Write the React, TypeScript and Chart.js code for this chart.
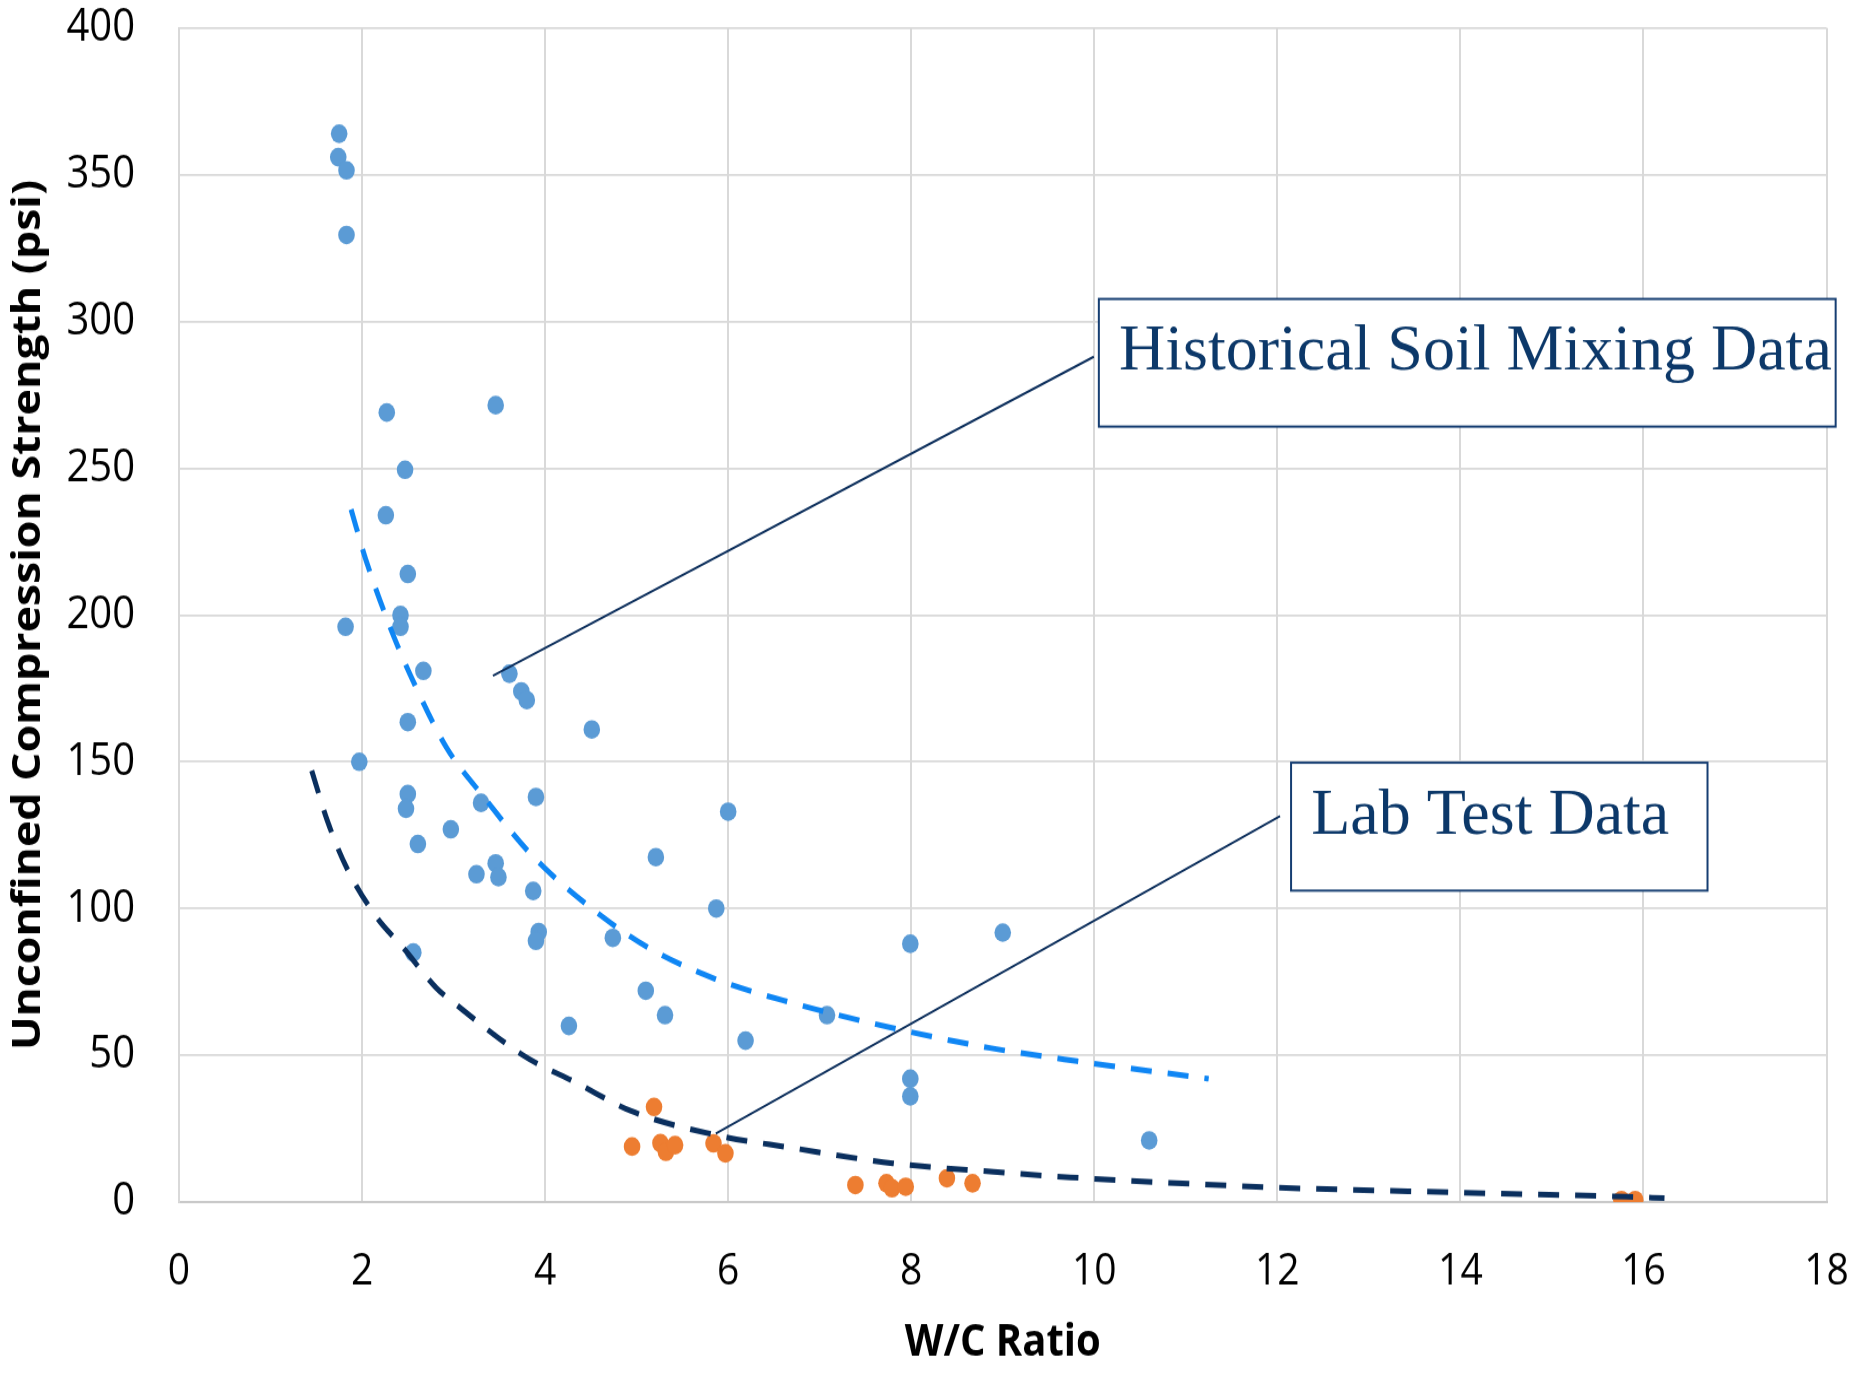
import React, { useEffect, useRef } from "react";
import { Chart, registerables } from "chart.js";

Chart.register(...registerables);

// ---- data ----
const historicalWC = [
  1.75, 1.74, 1.83, 1.83, 2.27, 3.46, 2.47, 2.26, 2.5, 2.42, 2.42, 1.82, 2.67, 3.61, 3.74, 3.8,
  2.5, 4.51, 1.97, 2.5, 3.9, 2.48, 3.3, 6.0, 2.97, 2.61, 5.21, 3.46, 3.25, 3.49, 3.87, 5.87,
  3.93, 3.9, 4.74, 7.99, 9.0, 2.56, 5.1, 5.31, 7.08, 4.26, 6.19, 7.99, 7.99, 10.6,
];
const historicalUCS = [
  364, 356, 351.5, 329.5, 269, 271.5, 249.5, 234, 214, 200, 196, 196, 181, 180, 174, 171,
  163.5, 161, 150, 139, 138, 134, 136, 133, 127, 122, 117.5, 115.4, 111.7, 110.7, 106, 100,
  92, 89, 90, 88, 91.8, 85, 72, 63.7, 63.7, 60, 55, 42, 36, 21,
];

const labWC = [5.19, 4.95, 5.26, 5.32, 5.42, 5.84, 5.97, 7.39, 7.73, 7.79, 7.94, 8.39, 8.67, 15.76, 15.91];
const labUCS = [32.4, 18.9, 20.1, 17.1, 19.4, 20, 16.6, 5.8, 6.4, 4.7, 5.2, 8.1, 6.4, 0.7, 0.7];

const historicalTrendWC = [1.88, 2.04, 2.33, 2.58, 2.92, 3.33, 3.86, 4.51, 5.11, 5.86, 6.68, 7.84, 8.86, 9.81, 11.25];
const historicalTrendUCS = [236, 219, 194, 176, 155, 138, 118, 100, 87, 76, 68, 59, 52.5, 48, 42];

const labTrendWC = [1.45, 1.62, 1.83, 2.16, 2.44, 2.81, 3.0, 3.76, 4.35, 4.94, 5.87, 6.69, 7.8, 8.9, 9.74, 11.95, 14.04, 15.82, 16.23];
const labTrendUCS = [147, 130, 114, 97, 87, 73, 68, 50, 40.5, 31, 22.8, 18.5, 13.2, 10.3, 8.4, 5.0, 3.2, 1.8, 1.3];

const xTicks = [0, 2, 4, 6, 8, 10, 12, 14, 16, 18];
const yTicks = [0, 50, 100, 150, 200, 250, 300, 350, 400];

const xTitle = "W/C Ratio";
const yTitle = "Unconfined Compression Strength (psi)";

const calloutTexts = ["Historical Soil Mixing Data", "Lab Test Data"];
// callout geometry in data units (box: x1,y1,x2,y2; text anchor; leader from -> to)
const calloutBoxes = [
  [10.05, 307.7, 18.1, 264.2],
  [12.15, 149.7, 16.7, 106.1],
];
const calloutTextAt = [
  [10.27, 283.5],
  [12.37, 125.3],
];
const calloutLeaders = [
  [3.43, 179.3, 9.995, 288],
  [5.865, 23.3, 12.03, 131.5],
];

// ---- layout / style ----
const W = 1855;
const H_OUT = 1376;
const STRETCH = 1.13;
const H = Math.round(H_OUT / STRETCH);
const S = H_OUT / H;

const BLUE = "#5b9bd5";
const ORANGE = "#ed7d31";
const BLUE_TREND = "#0f86f4";
const NAVY_TREND = "#0a2f5e";
const NAVY = "#0c3869";

const zip = (xs: number[], ys: number[]) => xs.map((x, i) => ({ x, y: ys[i] }));

const calloutPlugin = {
  id: "callouts",
  afterDatasetsDraw(chart: any) {
    const { ctx } = chart;
    const xs = chart.scales.x;
    const ys = chart.scales.y;
    ctx.save();
    ctx.strokeStyle = "#0d2f5c";
    ctx.lineWidth = 2;
    calloutLeaders.forEach((l) => {
      ctx.beginPath();
      ctx.moveTo(xs.getPixelForValue(l[0]), ys.getPixelForValue(l[1]));
      ctx.lineTo(xs.getPixelForValue(l[2]), ys.getPixelForValue(l[3]));
      ctx.stroke();
    });
    calloutBoxes.forEach((b, i) => {
      const x1 = xs.getPixelForValue(b[0]);
      const y1 = ys.getPixelForValue(b[1]);
      const x2 = xs.getPixelForValue(b[2]);
      const y2 = ys.getPixelForValue(b[3]);
      ctx.fillStyle = "#ffffff";
      ctx.fillRect(x1, y1, x2 - x1, y2 - y1);
      ctx.strokeStyle = "#163e72";
      ctx.lineWidth = 2;
      ctx.strokeRect(x1, y1, x2 - x1, y2 - y1);
      const t = calloutTextAt[i];
      ctx.save();
      ctx.translate(xs.getPixelForValue(t[0]), ys.getPixelForValue(t[1]));
      ctx.scale(1, 1 / S);
      ctx.font = '64px "Liberation Serif", "Times New Roman", serif';
      ctx.fillStyle = NAVY;
      ctx.textBaseline = "alphabetic";
      ctx.textAlign = "left";
      ctx.fillText(calloutTexts[i], 0, 0);
      ctx.restore();
    });
    ctx.restore();
  },
};

export default function App() {
  const ref = useRef<HTMLCanvasElement>(null);

  useEffect(() => {
    document.body.style.margin = "0";
    document.body.style.overflow = "hidden";
    const canvas = ref.current;
    if (!canvas) return;
    Chart.defaults.font.family = '"Open Sans", "Noto Sans", sans-serif';

    const chart = new Chart(canvas, {
      type: "scatter",
      data: {
        datasets: [
          {
            label: "Historical trend",
            data: zip(historicalTrendWC, historicalTrendUCS),
            showLine: true,
            borderColor: BLUE_TREND,
            borderWidth: 5,
            borderDash: [21, 16],
            pointRadius: 0,
            cubicInterpolationMode: "monotone",
            fill: false,
            order: 0,
          } as any,
          {
            label: "Lab trend",
            data: zip(labTrendWC, labTrendUCS),
            showLine: true,
            borderColor: NAVY_TREND,
            borderWidth: 5,
            borderDash: [21, 16],
            pointRadius: 0,
            cubicInterpolationMode: "monotone",
            fill: false,
            order: 0,
          } as any,
          {
            label: calloutTexts[0],
            data: zip(historicalWC, historicalUCS),
            pointRadius: 8.3,
            pointBackgroundColor: BLUE,
            pointBorderColor: BLUE,
            pointBorderWidth: 0,
            order: 1,
          } as any,
          {
            label: calloutTexts[1],
            data: zip(labWC, labUCS),
            pointRadius: 8.3,
            pointBackgroundColor: ORANGE,
            pointBorderColor: ORANGE,
            pointBorderWidth: 0,
            order: 1,
          } as any,
        ],
      },
      options: {
        responsive: false,
        animation: false,
        devicePixelRatio: 1,
        layout: { padding: { left: 0, right: 28.5, top: 24.8, bottom: 0 } },
        plugins: {
          legend: { display: false },
          tooltip: { enabled: false },
        },
        scales: {
          x: {
            type: "linear",
            min: 0,
            max: 18,
            afterFit: (s: any) => {
              s.height = 154;
            },
            afterBuildTicks: (s: any) => {
              s.ticks = xTicks.map((v) => ({ value: v }));
            },
            grid: {
              color: "#d9d9d9",
              lineWidth: 2,
              drawTicks: true,
              tickLength: 38,
              tickColor: "rgba(0,0,0,0)",
            },
            border: { color: "#c9c9c9", width: 2 },
            ticks: { padding: 0, color: "#000", font: { size: 39 } },
            title: {
              display: true,
              text: xTitle,
              color: "#000",
              font: { size: 40, weight: "bold", lineHeight: 1.2 },
              padding: { top: 0, bottom: 5 },
            },
          },
          y: {
            type: "linear",
            min: 0,
            max: 400,
            afterFit: (s: any) => {
              s.width = 179;
            },
            afterBuildTicks: (s: any) => {
              s.ticks = yTicks.map((v) => ({ value: v }));
            },
            grid: {
              color: "#d9d9d9",
              lineWidth: 1.8,
              drawTicks: true,
              tickLength: 44,
              tickColor: "rgba(0,0,0,0)",
            },
            border: { color: "#d9d9d9", width: 2 },
            ticks: { padding: 0, color: "#000", font: { size: 40 } },
            title: {
              display: true,
              text: yTitle,
              color: "#000",
              font: { size: 39.5, weight: "bold", lineHeight: 1.2 },
              padding: { top: 5, bottom: 0 },
            },
          },
        },
      } as any,
      plugins: [calloutPlugin],
    });
    return () => chart.destroy();
  }, []);

  return (
    <canvas
      ref={ref}
      width={W}
      height={H}
      style={{ width: W + "px", height: H_OUT + "px", display: "block" }}
    />
  );
}
